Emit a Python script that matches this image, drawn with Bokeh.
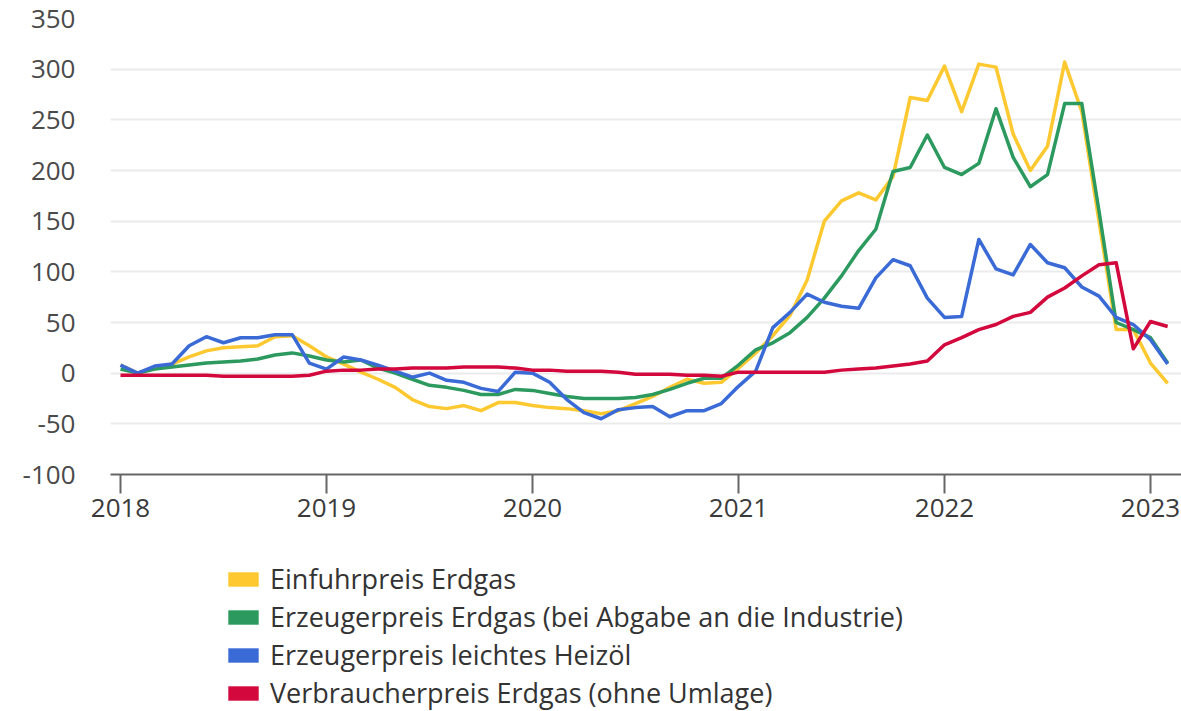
from bokeh.plotting import figure
from bokeh.layouts import column
from bokeh.models import Legend, LegendItem, FixedTicker, Range1d
from bokeh.embed import file_html
from bokeh.resources import INLINE

start_year = 2018
month_index = list(range(62))  # Jan 2018 .. Feb 2023

einfuhr_erdgas = [8, 0, 5, 9, 16, 22, 25, 26, 27, 36, 37, 27,
                  16, 9, 1, -6, -14, -26, -33, -35, -32, -37, -29, -29,
                  -32, -34, -35, -37, -40, -37, -30, -23, -14, -6, -10, -9,
                  5, 20, 37, 57, 92, 150, 170, 178, 171, 194, 272, 269,
                  303, 258, 305, 302, 236, 200, 224, 307, 258, 150, 43, 43,
                  10, -10]
erzeuger_erdgas = [4, 0, 4, 6, 8, 10, 11, 12, 14, 18, 20, 17,
                   13, 11, 13, 5, 0, -6, -12, -14, -17, -21, -21, -16,
                   -17, -20, -23, -25, -25, -25, -24, -21, -16, -10, -5, -5,
                   8, 23, 30, 40, 55, 74, 96, 121, 142, 199, 203, 235,
                   203, 196, 207, 261, 213, 184, 196, 266, 266, 160, 50, 43,
                   35, 10]
erzeuger_heizoel = [8, 0, 7, 9, 27, 36, 30, 35, 35, 38, 38, 10,
                    4, 16, 13, 8, 2, -4, 0, -7, -9, -15, -18, 1,
                    0, -9, -26, -39, -45, -36, -34, -33, -43, -37, -37, -30,
                    -13, 2, 45, 60, 78, 70, 66, 64, 94, 112, 106, 74,
                    55, 56, 132, 103, 97, 127, 109, 104, 85, 76, 55, 48,
                    33, 9]
verbraucher_erdgas = [-2, -2, -2, -2, -2, -2, -3, -3, -3, -3, -3, -2,
                      2, 3, 3, 4, 4, 5, 5, 5, 6, 6, 6, 5,
                      3, 3, 2, 2, 2, 1, -1, -1, -1, -2, -2, -3,
                      1, 1, 1, 1, 1, 1, 3, 4, 5, 7, 9, 12,
                      28, 35, 43, 48, 56, 60, 75, 84, 96, 107, 109, 24,
                      51, 46]

series_names = ["Einfuhrpreis Erdgas",
                "Erzeugerpreis Erdgas (bei Abgabe an die Industrie)",
                "Erzeugerpreis leichtes Heizöl",
                "Verbraucherpreis Erdgas (ohne Umlage)"]
series_colors = ["#fec930", "#2c9a5e", "#3a6ad6", "#d3083d"]
year_ticks = [2018, 2019, 2020, 2021, 2022, 2023]
y_ticks = [-100, -50, 0, 50, 100, 150, 200, 250, 300, 350]

x = [start_year + m / 12 for m in month_index]
FONT = "Open Sans"
TICK_SIZE = "26px"

p = figure(width=1181, height=540, output_backend="svg", toolbar_location=None,
           x_range=Range1d(2018 - 10 / 206, 2018 + 1061 / 206),
           y_range=Range1d(-100, 350),
           min_border_left=110, min_border_right=0, min_border_top=18,
           min_border_bottom=66)
p.outline_line_color = None

p.xgrid.grid_line_color = None
p.ygrid.grid_line_color = "#ebebeb"
p.ygrid.grid_line_width = 2
p.yaxis.ticker = FixedTicker(ticks=y_ticks)
p.yaxis.major_label_overrides = {t: str(t) for t in y_ticks}
p.xaxis.ticker = FixedTicker(ticks=year_ticks)
p.xaxis.major_label_overrides = {t: str(t) for t in year_ticks}

p.yaxis.axis_line_color = None
p.yaxis.major_tick_line_color = None
p.yaxis.minor_tick_line_color = None
p.yaxis.major_tick_out = 0
p.yaxis.major_tick_in = 0
p.yaxis.major_label_standoff = 35
p.yaxis.major_label_text_font = FONT
p.yaxis.major_label_text_font_size = TICK_SIZE
p.yaxis.major_label_text_color = "#4a4a4a"

p.xaxis.axis_line_color = "#666666"
p.xaxis.axis_line_width = 2
p.xaxis.major_tick_line_color = "#666666"
p.xaxis.major_tick_line_width = 2
p.xaxis.major_tick_out = 19
p.xaxis.major_tick_in = 0
p.xaxis.minor_tick_line_color = None
p.xaxis.major_label_standoff = 5
p.xaxis.major_label_text_font = FONT
p.xaxis.major_label_text_font_size = TICK_SIZE
p.xaxis.major_label_text_color = "#3a3a3a"

series_values = [einfuhr_erdgas, erzeuger_erdgas, erzeuger_heizoel, verbraucher_erdgas]
for vals, col in zip(series_values, series_colors):
    p.line(x, vals, line_color=col, line_width=3.5, line_join="round")

# legend figure below the chart
lf = figure(width=1181, height=171, output_backend="svg", toolbar_location=None,
            x_range=Range1d(0, 1), y_range=Range1d(0, 1),
            x_axis_type=None, y_axis_type=None,
            min_border_left=110, min_border_right=0, min_border_top=0, min_border_bottom=0)
lf.outline_line_color = None
lf.xgrid.visible = False
lf.ygrid.visible = False

items = []
for name, col in zip(series_names, series_colors):
    # zero-size placeholder glyph: only used for its legend swatch
    r = lf.quad(left=[0], right=[0], top=[0], bottom=[0], fill_color=col,
                line_color=None)
    items.append(LegendItem(label=name, renderers=[r]))

legend = Legend(items=items, location=(114, 0), orientation="vertical",
                glyph_width=38, glyph_height=18, label_standoff=8,
                label_height=30, spacing=1, padding=0, margin=0,
                border_line_color=None, background_fill_alpha=0,
                label_text_font=FONT, label_text_font_size="27px",
                label_text_color="#333333")
lf.add_layout(legend, "center")

layout = column(p, lf, spacing=0)
open("out.html", "w").write(file_html(layout, INLINE))
